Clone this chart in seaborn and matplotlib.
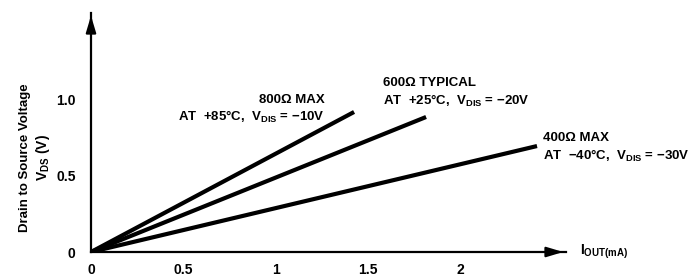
import matplotlib
matplotlib.use("Agg")
import matplotlib.pyplot as plt
import pandas as pd
import seaborn as sns

# ==================== DATA ====================
series = ["800Ω MAX", "600Ω TYPICAL", "400Ω MAX"]
conditions = ["AT  +85°C,  V$_{\\mathregular{DIS}}$ = −10V",
              "AT  +25°C,  V$_{\\mathregular{DIS}}$ = −20V",
              "AT  −40°C,  V$_{\\mathregular{DIS}}$ = −30V"]
iout_start = [0.0, 0.0, 0.0]
vds_start = [0.0, 0.0, 0.0]
iout_end = [1.425, 1.815, 2.416]   # mA
vds_end = [0.921, 0.888, 0.697]    # V

xticks = [0, 0.5, 1, 1.5, 2]
xticklabels = ["0", "0.5", "1", "1.5", "2"]
yticks = [0, 0.5, 1.0]
yticklabels = ["0", "0.5", "1.0"]

rows = []
for name, x0, y0, x1, y1 in zip(series, iout_start, vds_start, iout_end, vds_end):
    rows.append({"series": name, "iout": x0, "vds": y0})
    rows.append({"series": name, "iout": x1, "vds": y1})
df = pd.DataFrame(rows)

# ==================== STYLE ====================
sns.set_style("white")
plt.rcParams["font.family"] = ["Liberation Sans", "DejaVu Sans"]
plt.rcParams["font.weight"] = "bold"
plt.rcParams["mathtext.default"] = "regular"
for key in ["text.color", "xtick.color", "ytick.color", "axes.labelcolor"]:
    plt.rcParams[key] = "black"

FS = 9.5
W, H = 693, 278
fig = plt.figure(figsize=(W / 100, H / 100), dpi=100)
ax = fig.add_axes([91 / W, 26 / H, (566 - 91) / W, (252 - 13) / H])

sns.lineplot(data=df, x="iout", y="vds", hue="series", units="series",
             estimator=None, palette=["black"] * 3, linewidth=3.0,
             legend=False, ax=ax, solid_capstyle="butt")

ax.set_xlim(0, 2.573)
ax.set_ylim(0, 1.572)
ax.set_xlabel("")
ax.set_ylabel("")

for side in ["top", "right"]:
    ax.spines[side].set_visible(False)
for side in ["left", "bottom"]:
    ax.spines[side].set_linewidth(1.6)
    ax.spines[side].set_color("black")

ax.set_xticks(xticks)
ax.set_xticklabels(xticklabels, fontsize=FS + 0.5, fontweight="bold")
ax.set_yticks(yticks)
ax.set_yticklabels(yticklabels, fontsize=FS + 0.5, fontweight="bold")
ax.tick_params(axis="both", direction="in", length=9, width=1.0, color="black")
ax.tick_params(axis="x", pad=8)
ax.tick_params(axis="y", pad=11)

# axis arrows
ax.annotate("", xy=(1.0, 0), xytext=(0.97, 0), xycoords="axes fraction",
            arrowprops=dict(arrowstyle="-|>,head_length=1.0,head_width=0.3",
                            color="black", lw=1.6), annotation_clip=False)
ax.annotate("", xy=(0, 1.0), xytext=(0, 0.95), xycoords="axes fraction",
            arrowprops=dict(arrowstyle="-|>,head_length=1.0,head_width=0.3",
                            color="black", lw=1.6), annotation_clip=False)

# x axis label
ax.text(2.649, 0, "I$_{\\mathregular{OUT(mA)}}$", fontsize=FS + 0.5, fontweight="bold",
        ha="left", va="center", clip_on=False)

# y axis label (two lines)
fig.text(25 / W, 1 - 158 / H, "Drain to Source Voltage", rotation=90,
         fontsize=FS, fontweight="bold", ha="center", va="center")
fig.text(43 / W, 1 - 158 / H, "V$_{\\mathregular{DS}}$ (V)", rotation=90,
         fontsize=FS + 0.5, fontweight="bold", ha="center", va="center")

# annotations
ax.text(1.265, 1.0, series[0], fontsize=FS, fontweight="bold", ha="right", va="center")
ax.text(1.265, 0.885, conditions[0], fontsize=FS, fontweight="bold", ha="right", va="center")
ax.text(1.582, 1.11, series[1], fontsize=FS, fontweight="bold", ha="left", va="center")
ax.text(1.582, 0.995, conditions[1], fontsize=FS, fontweight="bold", ha="left", va="center")
ax.text(2.448, 0.75, series[2], fontsize=FS, fontweight="bold", ha="left", va="center")
ax.text(2.448, 0.635, conditions[2], fontsize=FS, fontweight="bold", ha="left", va="center")

fig.savefig("out.png", dpi=100)
